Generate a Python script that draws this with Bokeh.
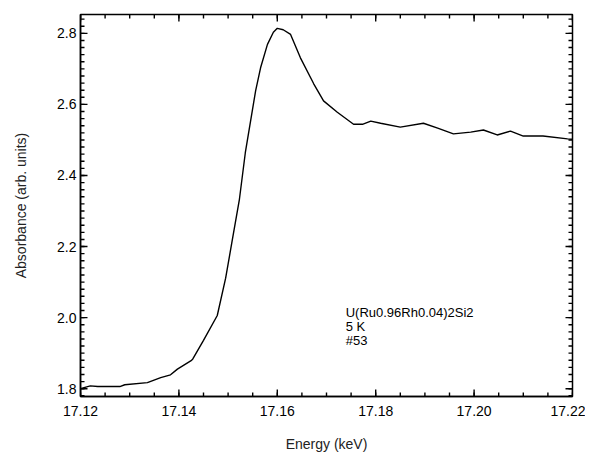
from bokeh.plotting import figure
from bokeh.models import Range1d, Label, NumeralTickFormatter, SingleIntervalTicker
from bokeh.embed import file_html
from bokeh.resources import INLINE

energy = [17.120, 17.122, 17.1235, 17.128, 17.129, 17.1336, 17.1363, 17.1383,
          17.1397, 17.1424, 17.1428, 17.145, 17.1478, 17.1495, 17.1509, 17.1523,
          17.1535, 17.1546, 17.1556, 17.1566, 17.158, 17.1592, 17.160, 17.1612,
          17.1627, 17.1647, 17.1674, 17.1694, 17.1722, 17.1755, 17.1773,
          17.179, 17.181, 17.185, 17.1897, 17.1926, 17.1958, 17.1993, 17.2019,
          17.2047, 17.2074, 17.210, 17.214, 17.219, 17.220]
absorb = [1.800, 1.808, 1.806, 1.806, 1.811, 1.817, 1.831, 1.839,
          1.855, 1.878, 1.883, 1.936, 2.006, 2.111, 2.222, 2.333,
          2.464, 2.556, 2.639, 2.703, 2.769, 2.803, 2.814, 2.810,
          2.797, 2.731, 2.658, 2.610, 2.578, 2.544, 2.544,
          2.553, 2.547, 2.536, 2.547, 2.533, 2.517, 2.522, 2.528,
          2.514, 2.525, 2.511, 2.511, 2.503, 2.502]
label_lines = ["U(Ru0.96Rh0.04)2Si2", "5 K", "#53"]

FONT = "Liberation Sans"
X0, X1 = 17.12, 17.22
Y0, Y1 = 1.778, 2.853
W, H = 585, 454
BL, BR, BT, BB = 80, 13, 14, 54
FW, FH = W - BL - BR, H - BT - BB

p = figure(width=W, height=H, output_backend="svg", toolbar_location=None,
           x_range=Range1d(X0, X1), y_range=Range1d(Y0, Y1),
           min_border_left=BL, min_border_right=BR, min_border_top=BT, min_border_bottom=BB)
p.grid.visible = False
p.outline_line_color = "black"
p.outline_line_width = 1.5
p.background_fill_color = "white"
p.border_fill_color = "white"

p.line(energy, absorb, line_color="black", line_width=1.4)

for ax in (p.xaxis[0], p.yaxis[0]):
    ax.axis_line_width = 1.5
    ax.major_tick_in = 0
    ax.major_tick_out = 0
    ax.minor_tick_in = 0
    ax.minor_tick_out = 0
    ax.major_label_text_font = FONT
    ax.major_label_text_font_size = "14px"
    ax.major_label_text_color = "black"
    ax.axis_label_text_font = FONT
    ax.axis_label_text_font_size = "14px"
    ax.axis_label_text_font_style = "normal"
    ax.axis_label_text_color = "#222222"

p.xaxis.ticker = SingleIntervalTicker(interval=0.02, num_minor_ticks=4)
p.yaxis.ticker = SingleIntervalTicker(interval=0.2, num_minor_ticks=10)
p.xaxis.formatter = NumeralTickFormatter(format="0.00")
p.yaxis.formatter = NumeralTickFormatter(format="0.0")
p.xaxis.axis_label = "Energy (keV)"
p.yaxis.axis_label = "Absorbance (arb. units)"
p.xaxis.major_label_standoff = 9
p.xaxis.axis_label_standoff = 17
p.yaxis.major_label_standoff = 4
p.yaxis.axis_label_standoff = 25

# inward ticks on all four sides, drawn as thin filled bars
dx = (X1 - X0) / FW   # data units per pixel
dy = (Y1 - Y0) / FH
TW = 0.7              # half tick thickness in px
xmaj = [round(X0 + 0.02 * i, 4) for i in range(6)]
xmin = [round(X0 + 0.005 * i, 4) for i in range(21)]
ymaj = [round(1.8 + 0.2 * i, 4) for i in range(6)]
ymin = [round(1.78 + 0.02 * i, 4) for i in range(54)]

L_, R_, B_, T_ = [], [], [], []
for xs, L in ((xmin, 4), (xmaj, 7)):
    for x in xs:
        L_ += [x - TW * dx, x - TW * dx]; R_ += [x + TW * dx, x + TW * dx]
        B_ += [Y0, Y1 - L * dy]; T_ += [Y0 + L * dy, Y1]
for ys, L in ((ymin, 4), (ymaj, 7)):
    for y in ys:
        B_ += [y - TW * dy, y - TW * dy]; T_ += [y + TW * dy, y + TW * dy]
        L_ += [X0, X1 - L * dx]; R_ += [X0 + L * dx, X1]
p.quad(left=L_, right=R_, bottom=B_, top=T_, fill_color="black", line_color=None)

for i, t in enumerate(label_lines):
    p.add_layout(Label(x=17.1739, y=2.035, text=t, y_offset=-14 * i,
                       text_font=FONT, text_font_size="13px", text_color="black",
                       text_baseline="top"))

open("out.html", "w").write(file_html(p, INLINE))
